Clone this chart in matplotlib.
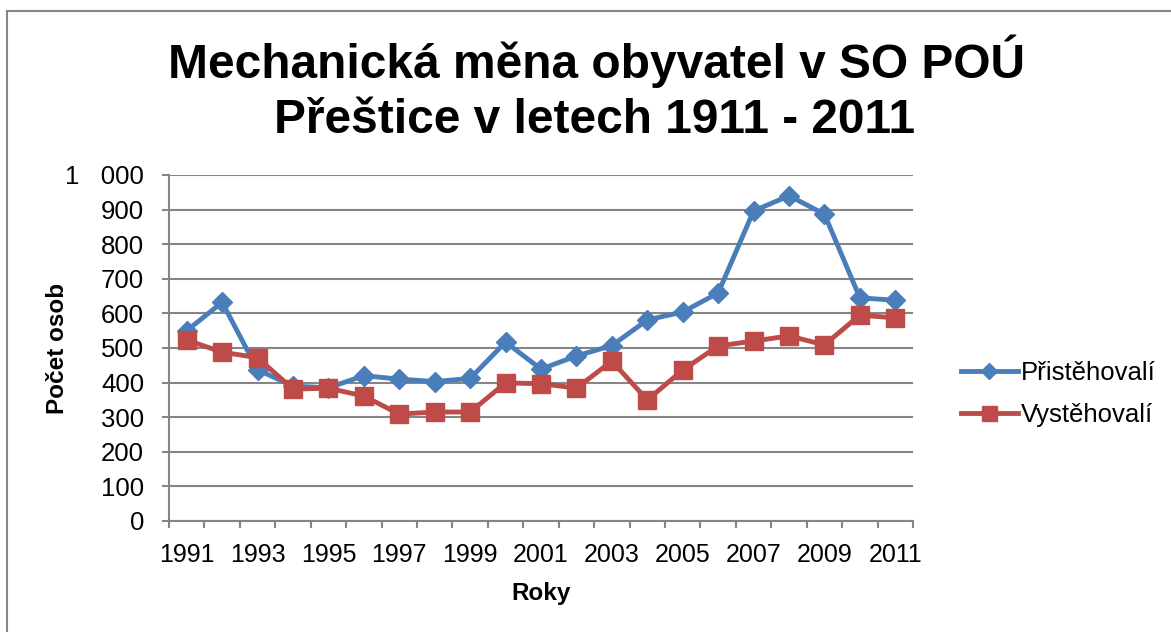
import matplotlib
matplotlib.use("Agg")
import matplotlib.pyplot as plt
from matplotlib.patches import Rectangle
from matplotlib.ticker import FuncFormatter, FixedLocator

plt.rcParams['font.family'] = ['Liberation Sans', 'DejaVu Sans']

# data
years = list(range(1991, 2012))
prist = [550, 632, 437, 390, 385, 420, 410, 403, 412, 517, 439, 477,
         507, 581, 604, 659, 896, 940, 887, 645, 638]
vyst = [523, 488, 472, 381, 384, 361, 309, 315, 315, 399, 397, 384,
        462, 350, 436, 506, 520, 535, 509, 595, 587]
series_names = ["Přistěhovalí", "Vystěhovalí"]
title_lines = ["Mechanická měna obyvatel v SO POÚ", "Přeštice v letech 1911 - 2011"]

blue = "#4A7EBB"
red = "#BE4B48"
grey = "#868686"

fig = plt.figure(figsize=(11.71, 6.32), dpi=100)
ax = fig.add_axes([169 / 1171, 1 - 521 / 632, (913 - 169) / 1171, (521 - 175) / 632])

x = list(range(len(years)))
ax.plot(x, prist, color=blue, lw=3.5, marker="D", ms=10, mfc=blue, mec=blue,
        label=series_names[0], zorder=3)
ax.plot(x, vyst, color=red, lw=3.5, marker="s", ms=13.5, mfc=red, mec=red,
        label=series_names[1], zorder=4)

ax.set_xlim(-0.5, len(years) - 0.5)
ax.set_ylim(0, 1000)
ax.set_yticks(range(0, 1001, 100))
# excel draws the thousands separator as a wide gap
ax.yaxis.set_major_formatter(FuncFormatter(lambda v, p: f"{int(v):,}".replace(",", "   ")))
ax.yaxis.grid(True, color=grey, lw=1.5)
ax.set_axisbelow(True)

ax.xaxis.set_major_locator(FixedLocator(x[::2]))
ax.set_xticklabels([str(y) for y in years[::2]])
ax.xaxis.set_minor_locator(FixedLocator([i - 0.5 for i in range(len(years) + 1)]))
ax.tick_params(axis="x", which="major", length=0, pad=15.5, labelsize=18)
ax.tick_params(axis="x", which="minor", length=5, width=1.5, color=grey, direction="out")
ax.tick_params(axis="y", length=5, width=1.5, color=grey, pad=13, labelsize=18.5)

for side in ["top", "right"]:
    ax.spines[side].set_visible(False)
for side in ["left", "bottom"]:
    ax.spines[side].set_color(grey)
    ax.spines[side].set_linewidth(1.5)

fig.text(597 / 1171, 1 - 78 / 632, title_lines[0], ha="center", va="baseline",
         fontsize=34.5, fontweight="bold")
fig.text(595 / 1171, 1 - 133 / 632, title_lines[1], ha="center", va="baseline",
         fontsize=34.5, fontweight="bold")
fig.text(541 / 1171, 1 - 600 / 632, "Roky", ha="center", va="baseline",
         fontsize=17.5, fontweight="bold")
fig.text(57 / 1171, 1 - 348 / 632, "Počet osob", ha="center", va="center",
         rotation=90, fontsize=17.5, fontweight="bold")

fig.legend(loc="center left", bbox_to_anchor=(961 / 1171, 1 - 394 / 632),
           frameon=False, fontsize=18.5, borderpad=0, borderaxespad=0,
           handlelength=2.2, handletextpad=0.12, labelspacing=0.7, markerscale=0.8)

fig.patches.append(Rectangle((7 / 1171, -0.1), 1.2, 1.1 - 11 / 632, transform=fig.transFigure,
                             fill=False, edgecolor=grey, lw=1.5))

fig.savefig("out.png", dpi=100)
